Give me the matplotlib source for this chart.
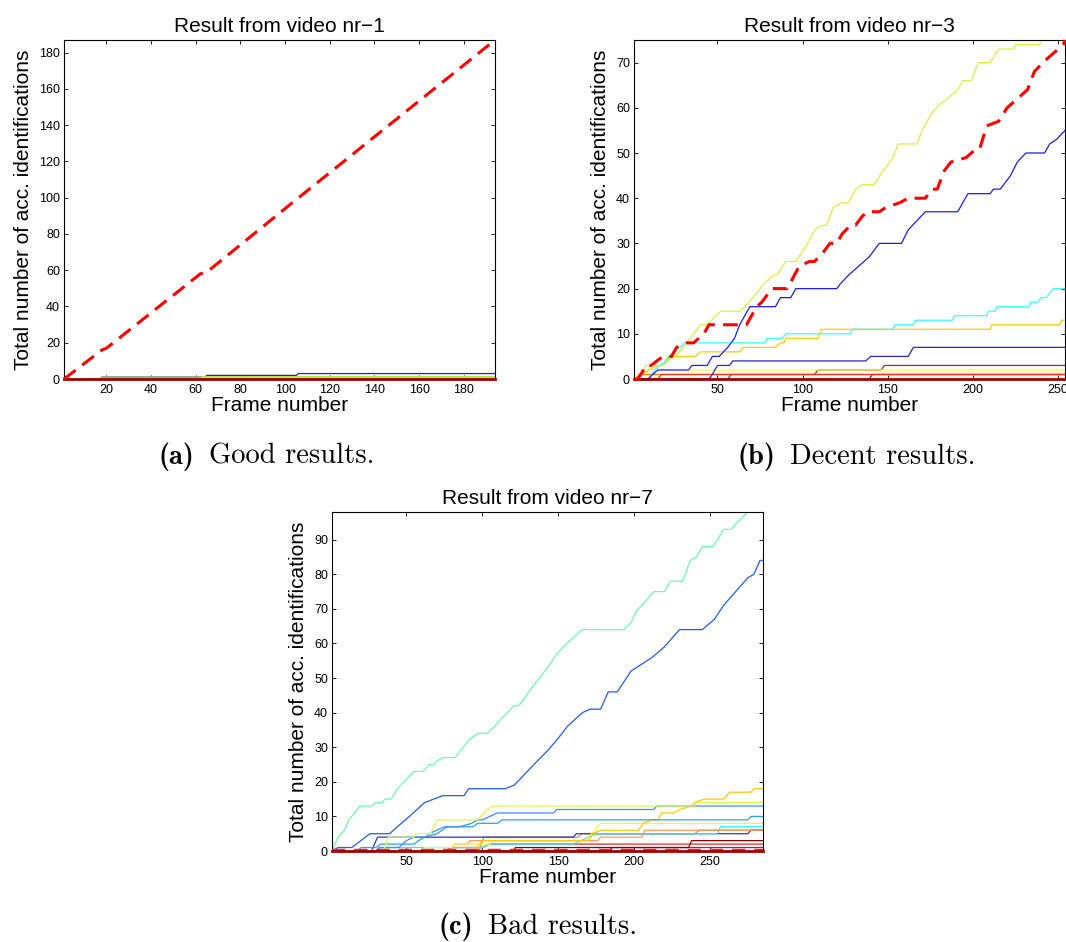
import matplotlib.pyplot as plt

plt.rcParams["font.family"] = ["Liberation Sans", "DejaVu Sans"]

# ---- panel (a): video nr-1 ----
a_total_x = [1, 18, 20, 61, 62, 65, 104, 194]
a_total_y = [0, 16, 17, 57, 58, 59, 98, 187]
a_blue_x = [1, 17, 18, 64, 65, 105, 106, 194]
a_blue_y = [0, 0, 1, 1, 2, 2, 3, 3]
a_green_x = [1, 17, 18, 194]
a_green_y = [0, 0, 1, 1]
a_ygreen_x = [1, 62, 63, 194]
a_ygreen_y = [0, 0, 1, 1]
a_xticks = [20, 40, 60, 80, 100, 120, 140, 160, 180]
a_yticks = [0, 20, 40, 60, 80, 100, 120, 140, 160, 180]

# ---- panel (b): video nr-3 ----
b_total_x = [1, 3, 5, 8, 11, 18, 23, 26, 32, 36, 42, 45, 67, 73, 76, 82, 85, 91, 98, 104,
             107, 112, 116, 120, 123, 128, 131, 135, 138, 145, 149, 157, 162, 167, 172,
             176, 179, 183, 187, 196, 202, 204, 208, 215, 220, 226, 232, 236, 241, 247,
             253, 254]
b_total_y = [0, 0, 1, 3, 3, 5, 5, 7, 8, 8, 10, 12, 12, 16, 17, 20, 20, 20, 25, 26,
             26, 28, 30, 30, 32, 34, 34, 36, 37, 37, 38, 39, 40, 40, 40,
             42, 42, 46, 48, 49, 51, 51, 56, 57, 60, 62, 64, 68, 70, 72,
             74, 75]
b_ygreen_x = [1, 3, 5, 8, 18, 21, 25, 30, 34, 38, 40, 44, 49, 52, 63, 66, 73, 77, 83, 85,
              90, 96, 103, 107, 111, 114, 118, 123, 127, 131, 135, 142, 147, 153, 156,
              167, 170, 176, 181, 185, 191, 194, 199, 203, 210, 215, 224, 225, 239, 242]
b_ygreen_y = [0, 0, 1, 3, 3, 4, 5, 7, 9, 11, 12, 12, 14, 15, 15, 16, 19, 21, 23, 23,
              26, 26, 30, 33, 34, 34, 38, 39, 39, 42, 43, 43, 46, 49, 52,
              52, 55, 59, 61, 62, 64, 66, 66, 70, 70, 73, 73, 74, 74, 76]
b_blue_x = [1, 9, 15, 33, 35, 44, 47, 51, 56, 60, 63, 66, 69, 84, 87, 93, 96, 120, 122,
            127, 133, 139, 145, 158, 162, 167, 172, 191, 197, 210, 212, 216, 222, 226,
            231, 242, 245, 249, 254]
b_blue_y = [0, 0, 2, 2, 3, 3, 5, 5, 7, 9, 12, 14, 16, 16, 18, 18, 20, 20, 21,
            23, 25, 27, 30, 30, 33, 35, 37, 37, 41, 41, 42, 42, 45, 48,
            50, 50, 52, 53, 55]
b_navy_x = [1, 45, 47, 50, 57, 59, 137, 140, 162, 165, 254]
b_navy_y = [0, 0, 1, 3, 3, 4, 4, 5, 5, 7, 7]
b_cyan_x = [1, 10, 13, 16, 20, 24, 28, 31, 78, 79, 88, 90, 128, 129, 153, 154, 165, 166,
            188, 189, 208, 209, 213, 214, 233, 234, 238, 240, 243, 245, 247, 254]
b_cyan_y = [0, 0, 2, 3, 4, 6, 7, 8, 8, 9, 9, 10, 10, 11, 11, 12, 12, 13,
            13, 14, 14, 15, 15, 16, 16, 17, 17, 18, 18, 19, 20, 20]
b_gold_x = [1, 5, 10, 15, 18, 21, 37, 40, 63, 65, 84, 87, 89, 90, 109, 111, 210, 211,
            251, 252, 254]
b_gold_y = [0, 1, 2, 3, 3, 5, 5, 6, 6, 7, 7, 8, 8, 9, 9, 11, 11, 12, 12, 13, 13]
b_yellow_x = [1, 3, 5, 33, 35, 254]
b_yellow_y = [0, 0, 1, 1, 2, 2]
b_brown_x = [1, 56, 58, 107, 109, 146, 148, 254]
b_brown_y = [0, 0, 1, 1, 2, 2, 3, 3]
b_blue2_x = [1, 139, 141, 254]
b_blue2_y = [0, 0, 1, 1]
b_ygreen2_x = [1, 151, 153, 254]
b_ygreen2_y = [0, 0, 1, 1]
b_orange_x = [1, 2, 4, 254]
b_orange_y = [0, 0, 1, 1]
b_red_x = [1, 15, 17, 254]
b_red_y = [0, 0, 1, 1]
b_xticks = [50, 100, 150, 200, 250]
b_yticks = [0, 10, 20, 30, 40, 50, 60, 70]

# ---- panel (c): video nr-7 ----
c_aqua_x = [1, 5, 9, 12, 16, 19, 27, 30, 34, 36, 40, 44, 55, 61, 65, 68, 70, 74, 82, 91,
            97, 103, 108, 112, 121, 124, 134, 143, 149, 158, 166, 193, 198, 201, 213,
            220, 224, 232, 237, 241, 245, 252, 255, 259, 264, 268, 275, 285]
c_aqua_y = [0, 4, 6, 9, 11, 13, 13, 14, 14, 15, 15, 18, 23, 23, 25, 25, 26, 27, 27, 32,
            34, 34, 36, 38, 42, 42, 48, 53, 57, 61, 64, 64, 66, 69, 75,
            75, 78, 78, 84, 85, 88, 88, 90, 93, 93, 95, 98, 98]
c_blue_x = [1, 5, 14, 20, 26, 39, 44, 52, 57, 62, 68, 74, 88, 91, 115, 121, 134, 143,
            149, 156, 166, 171, 178, 183, 189, 198, 205, 212, 220, 224, 230, 245, 253,
            259, 269, 275, 279, 283, 285]
c_blue_y = [0, 1, 1, 3, 5, 5, 7, 10, 12, 14, 15, 16, 16, 18, 18, 19, 25, 29,
            32, 36, 40, 41, 41, 46, 46, 52, 54, 56, 59, 61, 64, 64, 67,
            71, 76, 79, 80, 84, 84]
c_ygreen_x = [1, 35, 38, 55, 56, 66, 70, 97, 103, 107, 240, 241, 285]
c_ygreen_y = [0, 0, 4, 4, 5, 5, 9, 9, 12, 13, 13, 14, 14]
c_sky_x = [1, 30, 32, 45, 50, 55, 63, 65, 70, 75, 85, 93, 97, 100, 105, 110, 147, 149,
           213, 215, 285]
c_sky_y = [0, 0, 1, 1, 3, 4, 4, 5, 6, 7, 7, 8, 9, 9, 10, 11, 11, 12, 12, 13, 13]
c_azure_x = [1, 18, 20, 30, 33, 55, 58, 62, 70, 77, 94, 97, 110, 113, 275, 277, 285]
c_azure_y = [0, 0, 1, 1, 2, 2, 3, 4, 5, 7, 7, 8, 8, 9, 9, 10, 10]
c_gold_x = [1, 95, 100, 170, 173, 178, 203, 206, 212, 216, 218, 226, 230, 238, 240, 246,
            259, 263, 277, 279, 285]
c_gold_y = [0, 0, 3, 3, 5, 6, 6, 8, 9, 9, 11, 11, 12, 13, 14, 15, 15, 17, 17, 18, 18]
c_yellow_x = [1, 60, 62, 80, 82, 105, 107, 168, 172, 176, 178, 285]
c_yellow_y = [0, 0, 1, 1, 2, 2, 3, 3, 5, 7, 8, 8]
c_orange_x = [1, 78, 82, 90, 92, 176, 178, 205, 207, 285]
c_orange_y = [0, 0, 2, 2, 3, 3, 4, 4, 6, 6]
c_cyan_x = [1, 30, 33, 100, 105, 160, 170, 175, 255, 257, 285]
c_cyan_y = [0, 0, 1, 1, 2, 2, 4, 5, 5, 7, 7]
c_khaki_x = [1, 98, 101, 163, 166, 240, 243, 285]
c_khaki_y = [0, 0, 4, 4, 5, 5, 6, 6]
c_navy_x = [1, 27, 31, 160, 162, 275, 277, 285]
c_navy_y = [0, 0, 4, 4, 5, 5, 6, 6]
c_maroon_x = [1, 120, 122, 236, 238, 285]
c_maroon_y = [0, 0, 1, 1, 3, 3]
c_red_x = [1, 75, 80, 100, 105, 285]
c_red_y = [0, 0, 1, 1, 2, 2]
c_purple_x = [1, 183, 186, 285]
c_purple_y = [0, 0, 1, 1]
c_total_x = [1, 285]
c_total_y = [0, 0]
c_xticks = [50, 100, 150, 200, 250]
c_yticks = [0, 10, 20, 30, 40, 50, 60, 70, 80, 90]

# sub-figure captions: (label, text)
caption_labels = ["(a)", "(b)", "(c)"]
caption_texts = ["Good results.", "Decent results.", "Bad results."]


def style_axes(ax, title, xlim, ylim, xticks, yticks):
    ax.set_xlim(*xlim)
    ax.set_ylim(*ylim)
    ax.set_xticks(xticks)
    ax.set_yticks(yticks)
    ax.tick_params(direction="in", length=3, width=0.6, top=True, right=True,
                   labelsize=9, colors="black")
    ax.tick_params(axis="x", pad=3.4)
    ax.tick_params(axis="y", pad=2.9)
    for spine in ax.spines.values():
        spine.set_linewidth(0.8)
    ax.set_title(title, fontsize=15, pad=5.9)
    ax.set_xlabel("Frame number", fontsize=15, labelpad=0.5)
    ax.set_ylabel("Total number of acc. identifications", fontsize=15, labelpad=4.5)


def draw_lines(ax, series, lw=0.9):
    for x, y, color in series:
        ax.plot(x, y, color=color, lw=lw)


def draw_zero_line(ax, xmax):
    ax.plot([1, xmax], [0, 0], color="#a00000", lw=2.0, clip_on=False, zorder=3)


def draw_total(ax, x, y, on_top=True):
    if on_top:
        ax.plot(x, y, color="#ff0000", lw=2.2, dashes=(4.8, 2.7), zorder=4,
                clip_on=False)
    else:
        # flat total along the bottom: drawn under the zero line, clipped
        ax.plot(x, y, color="#ff2020", lw=3.2, dashes=(3.0, 2.0), zorder=2.9)


def main() -> None:
    fig = plt.figure(figsize=(10.66, 9.42), dpi=100)

    ax_a = fig.add_axes([64 / 1066, 1 - 379 / 942, 431 / 1066, 339 / 942])
    ax_b = fig.add_axes([634 / 1066, 1 - 379 / 942, 431 / 1066, 339 / 942])
    ax_c = fig.add_axes([332 / 1066, 1 - 851 / 942, 431 / 1066, 339 / 942])

    # (a)
    draw_lines(ax_a, [(a_blue_x, a_blue_y, "#1c1cff")])
    draw_lines(ax_a, [(a_green_x, a_green_y, "#86b886"),
                      (a_ygreen_x, a_ygreen_y, "#b8f028")], lw=1.4)
    draw_zero_line(ax_a, 194)
    draw_total(ax_a, a_total_x, a_total_y)
    style_axes(ax_a, "Result from video nr\u22121", (1, 194), (0, 187),
               a_xticks, a_yticks)

    # (b)
    draw_lines(ax_b, [
        (b_brown_x, b_brown_y, "#a02828"),
        (b_yellow_x, b_yellow_y, "#ffff33"),
        (b_blue2_x, b_blue2_y, "#2a2ad8"),
        (b_ygreen2_x, b_ygreen2_y, "#ccff33"),
        (b_orange_x, b_orange_y, "#ff8000"),
        (b_red_x, b_red_y, "#ff3010"),
        (b_navy_x, b_navy_y, "#2828c8"),
        (b_gold_x, b_gold_y, "#ffcc00"),
        (b_cyan_x, b_cyan_y, "#33ffff"),
        (b_blue_x, b_blue_y, "#1a1aff"),
        (b_ygreen_x, b_ygreen_y, "#d4f53c"),
    ])
    draw_zero_line(ax_b, 254)
    draw_total(ax_b, b_total_x, b_total_y)
    style_axes(ax_b, "Result from video nr\u22123", (1, 254), (0, 75),
               b_xticks, b_yticks)

    # (c)
    draw_lines(ax_c, [
        (c_purple_x, c_purple_y, "#902090"),
        (c_red_x, c_red_y, "#e8281e"),
        (c_maroon_x, c_maroon_y, "#8b0000"),
        (c_khaki_x, c_khaki_y, "#a8a070"),
        (c_navy_x, c_navy_y, "#3030d8"),
        (c_cyan_x, c_cyan_y, "#20f0ff"),
        (c_orange_x, c_orange_y, "#ff9a50"),
        (c_yellow_x, c_yellow_y, "#ffee40"),
        (c_gold_x, c_gold_y, "#ffc800"),
        (c_azure_x, c_azure_y, "#2aa0ff"),
        (c_sky_x, c_sky_y, "#3c8cff"),
        (c_ygreen_x, c_ygreen_y, "#d8ff40"),
        (c_blue_x, c_blue_y, "#1a5cff"),
        (c_aqua_x, c_aqua_y, "#66ffaa"),
    ])
    draw_zero_line(ax_c, 285)
    draw_total(ax_c, c_total_x, c_total_y, on_top=False)
    style_axes(ax_c, "Result from video nr\u22127", (1, 285), (0, 98),
               c_xticks, c_yticks)

    # label right edge, text left edge, baseline (pixels from top-left)
    caption_pos = [(194, 209, 464), (775, 790, 464), (473, 488, 934)]
    for label, text, (xl, xt, yb) in zip(caption_labels, caption_texts, caption_pos):
        fig.text(xl / 1066, 1 - yb / 942, label, family="cmb10", fontsize=20.5,
                 ha="right", va="baseline")
        fig.text(xt / 1066, 1 - yb / 942, text, family="cmr10", fontsize=20.5,
                 ha="left", va="baseline")

    fig.savefig("out.png", dpi=100)
    plt.close(fig)


if __name__ == "__main__":
    main()
